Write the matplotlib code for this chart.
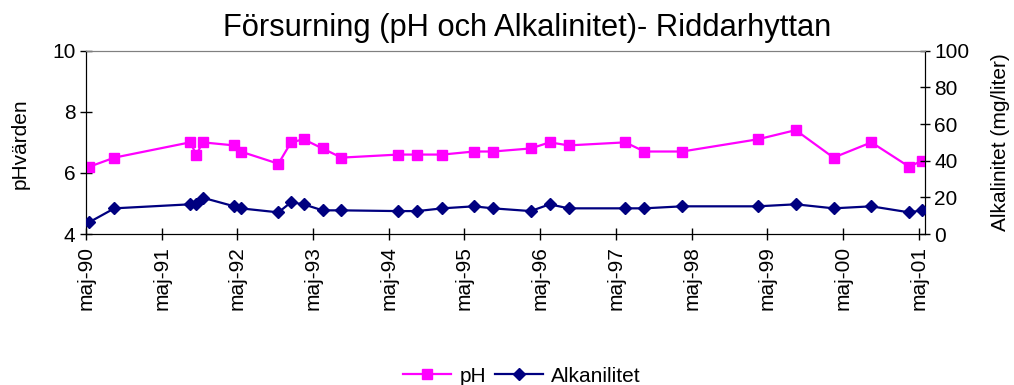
import matplotlib
matplotlib.use("Agg")
import matplotlib.pyplot as plt
from matplotlib.lines import Line2D

plt.rcParams['font.family'] = ['Liberation Sans', 'DejaVu Sans']

# Sampling months (year-month)
sample_months = ["1990-05", "1990-09", "1991-09", "1991-10", "1991-11", "1992-04",
                 "1992-05", "1992-11", "1993-01", "1993-03", "1993-06", "1993-09",
                 "1994-06", "1994-09", "1995-01", "1995-06", "1995-09", "1996-03",
                 "1996-06", "1996-09", "1997-06", "1997-09", "1998-03", "1999-03",
                 "1999-09", "2000-03", "2000-09", "2001-03", "2001-05"]

ph_values = [6.2, 6.5, 7.0, 6.6, 7.0, 6.9, 6.7, 6.3, 7.0, 7.1, 6.8, 6.5,
             6.6, 6.6, 6.6, 6.7, 6.7, 6.8, 7.0, 6.9, 7.0, 6.7, 6.7, 7.1,
             7.4, 6.5, 7.0, 6.2, 6.4]

alk_values = [6.4, 14.0, 16.2, 16.2, 19.8, 15.1, 14.0, 11.8, 17.3, 16.2, 12.9, 12.9,
              12.5, 12.5, 14.0, 15.1, 14.0, 12.5, 16.2, 14.0, 14.0, 14.0, 15.1, 15.1,
              16.2, 14.0, 15.1, 11.8, 12.9]

tick_labels = ["maj-90", "maj-91", "maj-92", "maj-93", "maj-94", "maj-95",
               "maj-96", "maj-97", "maj-98", "maj-99", "maj-00", "maj-01"]

START_YEAR, START_MONTH = 1990, 5


def month_index(ym):
    y, m = (int(p) for p in ym.split("-"))
    return (y - START_YEAR) * 12 + (m - START_MONTH)


# each month is one slot; points sit in the middle of their slot
x = [month_index(s) + 0.5 for s in sample_months]
n_slots = month_index(sample_months[-1]) + 1

W, H = 1014, 385
fig = plt.figure(figsize=(W / 100, H / 100), dpi=100)
ax = fig.add_axes([86 / W, 1 - 234 / H, (925 - 86) / W, (234 - 50.7) / H])
ax2 = ax.twinx()

ph_color = "#FF00FF"
alk_color = "#000080"

ax.plot(x, ph_values, color=ph_color, lw=1.6, marker="s", ms=7,
        markeredgecolor=ph_color, zorder=3)
ax2.plot(x, alk_values, color=alk_color, lw=1.6, marker="D", ms=6.5,
         markeredgecolor=alk_color, zorder=3)

ax.set_xlim(0, n_slots)
ax.set_ylim(4, 10)
ax2.set_ylim(0, 100)
ax.set_yticks([4, 6, 8, 10])
ax2.set_yticks([0, 20, 40, 60, 80, 100])
ax.set_xticks(range(0, n_slots, 12))
ax.set_xticklabels(tick_labels, rotation=90)

fs = 15
ax.tick_params(axis="x", direction="inout", length=9, width=1, labelsize=fs, pad=4)
ax.tick_params(axis="y", direction="inout", length=9, width=1, labelsize=fs, pad=3)
ax2.tick_params(axis="y", direction="inout", length=7, width=1, labelsize=fs, pad=3)

for a in (ax, ax2):
    a.spines["top"].set_color("#808080")
    for s in ("left", "right", "bottom"):
        a.spines[s].set_color("black")

fig.text(527 / W, 1 - 36 / H, "Försurning (pH och Alkalinitet)- Riddarhyttan",
         ha="center", va="baseline", fontsize=22.2)
fig.text(20 / W, 1 - 143.5 / H, "pHvärden", rotation=90, ha="center", va="center",
         fontsize=fs)
fig.text(1000 / W, 1 - 142 / H, "Alkalinitet (mg/liter)", rotation=90,
         ha="center", va="center", fontsize=fs)

handles = [
    Line2D([], [], color=ph_color, lw=1.6, marker="s", ms=7, markeredgecolor=ph_color),
    Line2D([], [], color=alk_color, lw=1.6, marker="D", ms=6.5, markeredgecolor=alk_color),
]
fig.legend(handles, ["pH", "Alkanilitet"], loc="center", ncol=2,
           bbox_to_anchor=(522 / W, 1 - 376 / H), frameon=False, fontsize=fs,
           handlelength=2.3, handletextpad=0.4, columnspacing=0.4,
           borderpad=0, borderaxespad=0)

fig.savefig("out.png", dpi=100)
